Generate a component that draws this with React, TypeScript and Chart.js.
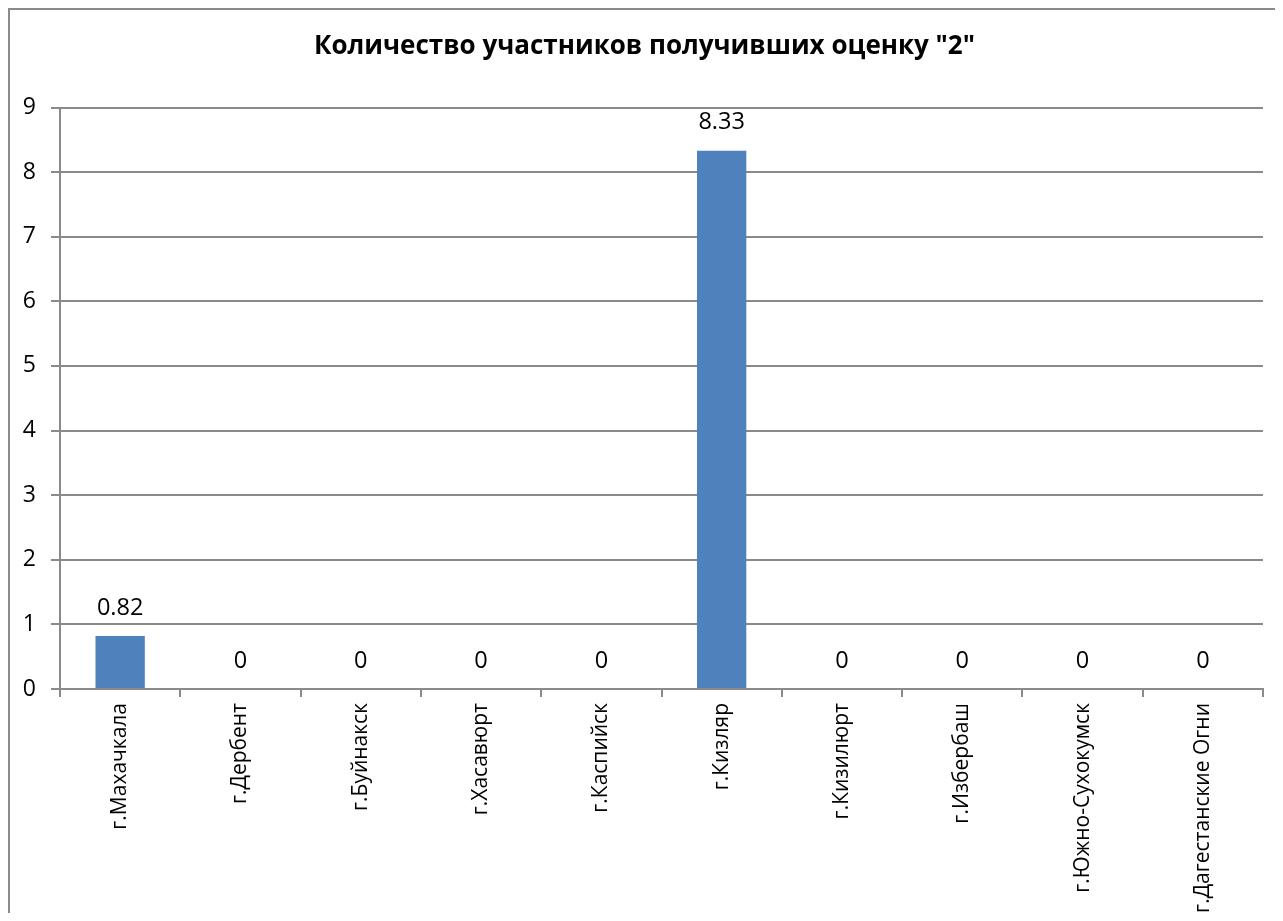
import React, { useEffect, useRef } from "react";
import { Chart, registerables } from "chart.js";

Chart.register(...registerables);

const TITLE = 'Количество участников получивших оценку "2"';
const CATEGORIES = [
  "г.Махачкала",
  "г.Дербент",
  "г.Буйнакск",
  "г.Хасавюрт",
  "г.Каспийск",
  "г.Кизляр",
  "г.Кизилюрт",
  "г.Избербаш",
  "г.Южно-Сухокумск",
  "г.Дагестанские Огни",
];
const VALUES = [0.82, 0, 0, 0, 0, 8.33, 0, 0, 0, 0];
const Y_MIN = 0;
const Y_MAX = 9;
const Y_STEP = 1;

const FONT = "'Open Sans', 'Noto Sans', sans-serif";
const GRID = "#8a8a8a";

const titleAndLabels = {
  id: "titleAndLabels",
  afterDatasetsDraw(chart: any) {
    const ctx = chart.ctx;
    const meta = chart.getDatasetMeta(0);
    ctx.save();
    ctx.fillStyle = "#000";
    ctx.textAlign = "center";
    ctx.textBaseline = "middle";
    ctx.font = `bold 26px ${FONT}`;
    ctx.fillText(TITLE, 634.5, 37);
    ctx.font = `23.5px ${FONT}`;
    meta.data.forEach((bar: any, i: number) => {
      const v = VALUES[i];
      ctx.fillText(String(v), bar.x, bar.y - 28);
    });
    ctx.restore();
  },
};

export default function App() {
  const ref = useRef<HTMLCanvasElement>(null);
  useEffect(() => {
    if (!ref.current) return;
    const chart = new Chart(ref.current, {
      type: "bar",
      data: {
        labels: CATEGORIES,
        datasets: [
          {
            data: VALUES,
            backgroundColor: "#4F81BD",
            borderWidth: 0,
            categoryPercentage: 1,
            barPercentage: 0.41,
          },
        ],
      },
      options: {
        responsive: false,
        animation: false,
        layout: { padding: { left: 0, right: 12, top: 97.5, bottom: 0 } },
        plugins: {
          legend: { display: false },
          tooltip: { enabled: false },
          title: { display: false },
        },
        scales: {
          x: {
            offset: true,
            grid: {
              offset: true,
              drawOnChartArea: false,
              drawTicks: true,
              tickLength: 8,
              color: GRID,
              lineWidth: 2,
            },
            border: { color: GRID, width: 2 },
            ticks: {
              color: "#000",
              font: { family: FONT, size: 21 },
              maxRotation: 90,
              minRotation: 90,
              autoSkip: false,
              padding: 6,
            },
            afterFit(scale: any) {
              scale.height = 224;
            },
          },
          y: {
            min: Y_MIN,
            max: Y_MAX,
            grid: {
              color: GRID,
              lineWidth: 2,
              drawTicks: true,
              tickLength: 9,
            },
            border: { color: GRID, width: 2 },
            ticks: {
              stepSize: Y_STEP,
              color: "#000",
              font: { family: FONT, size: 23 },
              padding: 15,
            },
            afterFit(scale: any) {
              scale.width = 50;
            },
          },
        },
      },
      plugins: [titleAndLabels],
    });
    return () => chart.destroy();
  }, []);

  return (
    <div
      style={{
        width: 1267,
        height: 905,
        borderLeft: `2px solid ${GRID}`,
        borderTop: `2px solid ${GRID}`,
        boxSizing: "border-box",
        overflow: "hidden",
        background: "#fff",
      }}
    >
      <canvas ref={ref} width={1265} height={903} style={{ display: "block" }} />
    </div>
  );
}
